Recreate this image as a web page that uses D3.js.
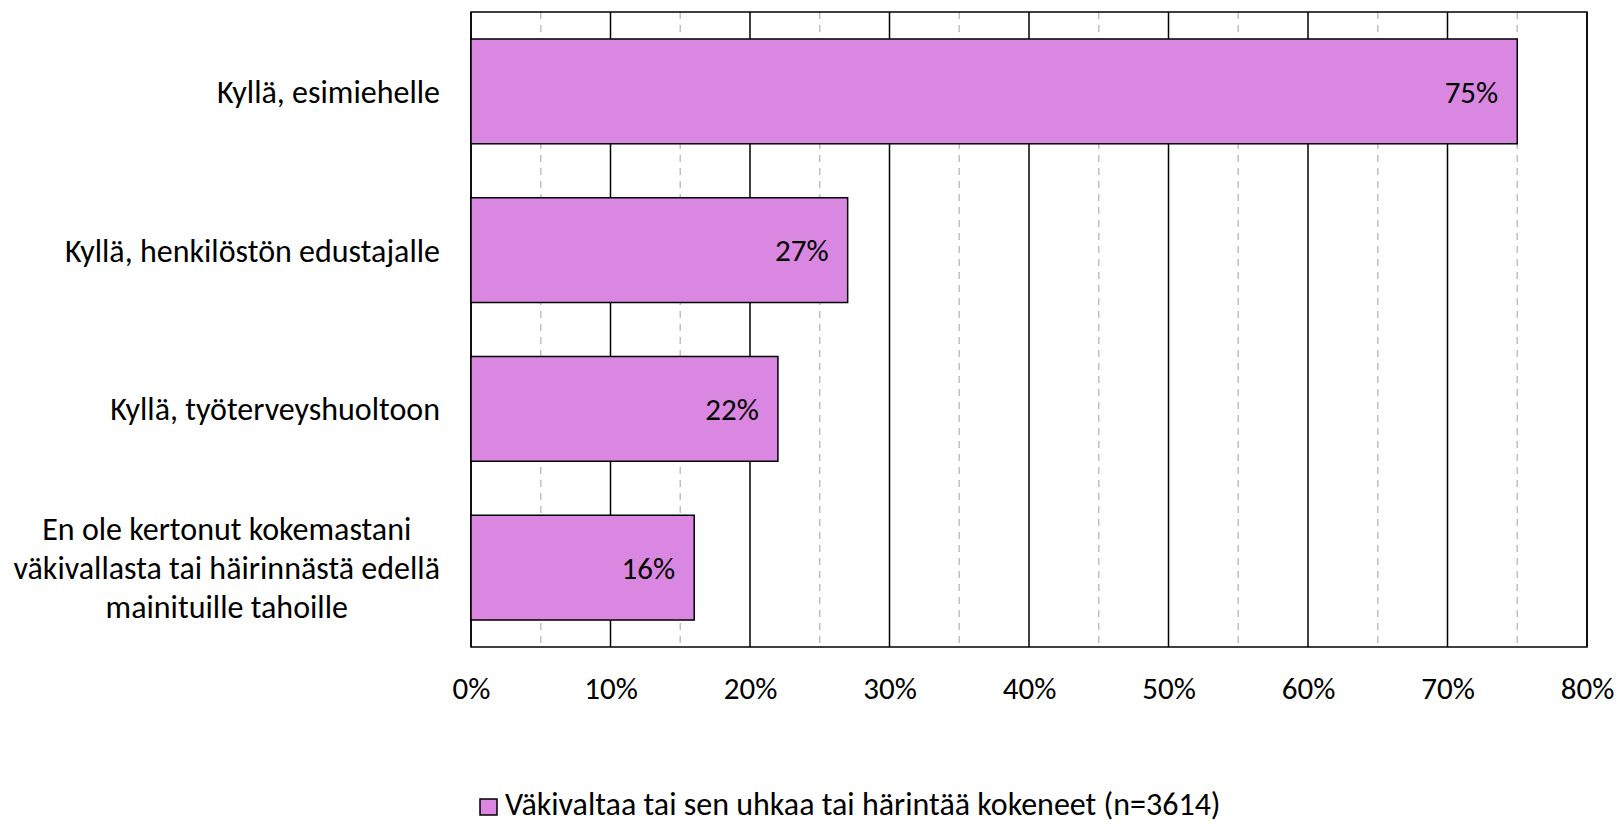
<!DOCTYPE html>
<html>
<head>
<meta charset="utf-8">
<script src="https://cdn.jsdelivr.net/npm/d3@7"></script>
<style>
  body { margin: 0; background: #fff; }
  svg text { font-family: Carlito, Calibri, "Open Sans", sans-serif; fill: #000; }
</style>
</head>
<body>
<div id="chart"></div>
<script>
// data
var categories = [
  ["Kyllä, esimiehelle"],
  ["Kyllä, henkilöstön edustajalle"],
  ["Kyllä, työterveyshuoltoon"],
  ["En ole kertonut kokemastani", "väkivallasta tai häirinnästä edellä", "mainituille tahoille"]
]
var values = [75, 27, 22, 16]
var ticks = [0, 10, 20, 30, 40, 50, 60, 70, 80]
var minorTicks = [5, 15, 25, 35, 45, 55, 65, 75]
var seriesName = "Väkivaltaa tai sen uhkaa tai härintää kokeneet (n=3614)"

var W = 1617, H = 824
var margin = {top: 12, right: 30, bottom: 177, left: 471}
var width = 1587 - margin.left,
    height = 647 - margin.top
var barColor = "#da87e2"
var fontSize = "31px"

var svg = d3.select("#chart").append("svg")
    .attr("width", W)
    .attr("height", H)

var g = svg.append("g")
    .attr("transform", "translate(" + margin.left + "," + margin.top + ")")

var x = d3.scaleLinear().domain([0, 80]).range([0, width])
var y = d3.scaleBand().domain(d3.range(categories.length)).range([0, height]).paddingInner(0.34).paddingOuter(0.17)

// minor dashed gridlines
g.append("g").selectAll("line")
    .data(minorTicks)
  .enter().append("line")
    .attr("x1", function(d) { return x(d) })
    .attr("x2", function(d) { return x(d) })
    .attr("y1", 0)
    .attr("y2", height)
    .style("stroke", "#c0c0c0")
    .style("stroke-width", 1.5)
    .style("stroke-dasharray", "7,6")

// major gridlines
g.append("g").selectAll("line")
    .data(ticks)
  .enter().append("line")
    .attr("x1", function(d) { return x(d) })
    .attr("x2", function(d) { return x(d) })
    .attr("y1", 0)
    .attr("y2", height)
    .style("stroke", "#000")
    .style("stroke-width", 1.5)

// plot border
g.append("rect")
    .attr("width", width)
    .attr("height", height)
    .style("fill", "none")
    .style("stroke", "#000")
    .style("stroke-width", 1.5)

// bars
g.append("g").selectAll("rect")
    .data(values)
  .enter().append("rect")
    .attr("x", x(0))
    .attr("y", function(d, i) { return y(i) })
    .attr("width", function(d) { return x(d) - x(0) })
    .attr("height", y.bandwidth())
    .style("fill", barColor)
    .style("stroke", "#000")
    .style("stroke-width", 1.5)

// value labels
g.append("g").selectAll("text")
    .data(values)
  .enter().append("text")
    .attr("x", function(d) { return x(d) - 19 })
    .attr("y", function(d, i) { return y(i) + y.bandwidth() / 2 })
    .attr("dy", "0.36em")
    .attr("text-anchor", "end")
    .style("font-size", fontSize)
    .text(function(d) { return d + "%" })

// x axis labels
var xAxis = d3.axisBottom(x).tickValues(ticks).tickSize(0)
    .tickFormat(function(d) { return d + "%" })
var ax = g.append("g")
    .attr("transform", "translate(0," + height + ")")
    .call(xAxis)
ax.select(".domain").remove()
ax.selectAll("text")
    .attr("y", 41)
    .attr("dy", "0.36em")
    .style("font-size", fontSize)
    .style("font-family", null)

// category labels
var lineH = 39
var cat = g.append("g").selectAll("text")
    .data(categories)
  .enter().append("text")
    .attr("text-anchor", "middle")
    .style("font-size", "32px")
    .attr("transform", function(d, i) {
      return "translate(0," + (y(i) + y.bandwidth() / 2) + ")" })
cat.each(function(lines) {
  var t = d3.select(this)
  var n = lines.length
  lines.forEach(function(l, k) {
    t.append("tspan")
      .attr("x", 0)
      .attr("y", (k - (n - 1) / 2) * lineH)
      .attr("dy", "0.36em")
      .text(l)
  })
})
// right edge of each label block sits 31px left of the axis
cat.each(function(lines, i) {
  var bb = this.getBBox()
  var shift = -31 - (bb.x + bb.width)
  d3.select(this).attr("transform",
    "translate(" + shift + "," + (y(i) + y.bandwidth() / 2) + ")")
})

// legend
var legend = svg.append("g").attr("transform", "translate(480,815)")
legend.append("rect")
    .attr("x", 0)
    .attr("y", -16)
    .attr("width", 17)
    .attr("height", 16)
    .style("fill", barColor)
    .style("stroke", "#000")
    .style("stroke-width", 1.5)
legend.append("text")
    .attr("x", 25)
    .attr("y", 0)
    .style("font-size", "32px")
    .text(seriesName)
</script>
</body>
</html>
